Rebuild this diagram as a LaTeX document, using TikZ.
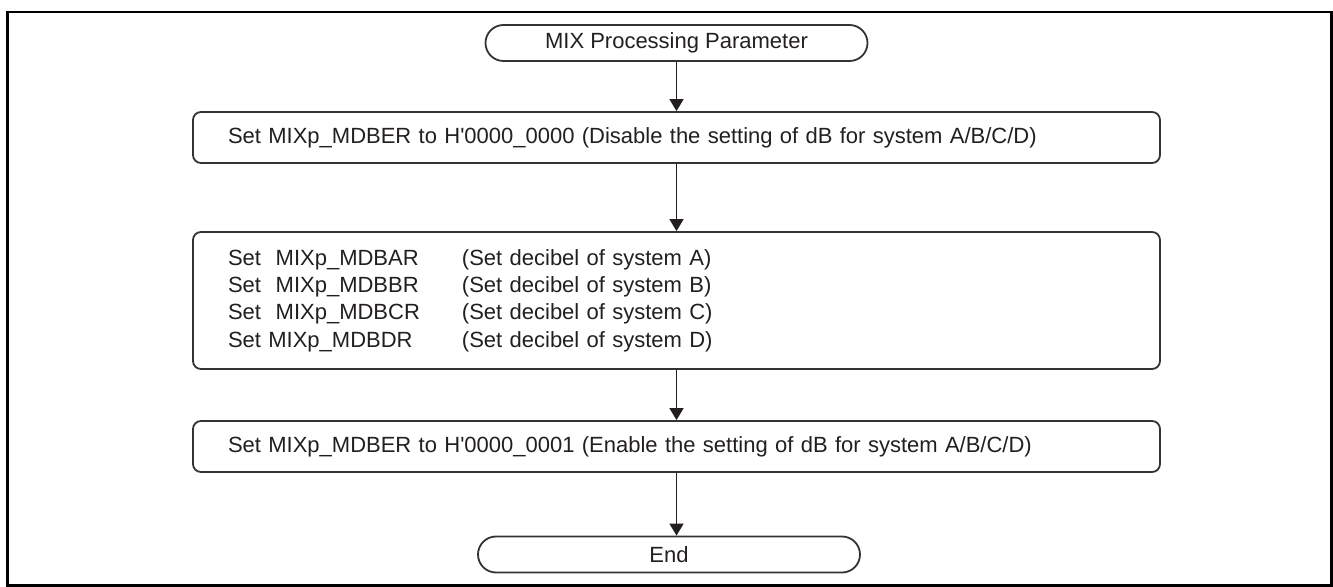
\documentclass[tikz,border=0pt]{standalone}
\usepackage{fontspec}
\setmainfont{Liberation Sans}
\usetikzlibrary{positioning,arrows.meta}
\definecolor{ink}{HTML}{231F20}
\definecolor{edge}{HTML}{333333}

\begin{document}
\begin{tikzpicture}[x=0.5pt,y=-0.5pt,
  font=\fontsize{11}{13.65}\selectfont, text=ink,
  terminal/.style={draw=edge,line width=0.9pt,rounded corners=9pt,minimum width=191pt,minimum height=18pt,inner sep=0pt},
  procbox/.style={draw=edge,line width=0.9pt,rounded corners=4pt,minimum width=483.5pt,text width=448.5pt,inner xsep=17.5pt,inner ysep=0pt,align=left},
  flow/.style={-{Triangle[width=7pt,length=6pt]},draw=ink,line width=0.75pt}]
  \useasboundingbox (0,0) rectangle (1333,587);
  \draw[line width=1.25pt] (7.5,12) rectangle (1331.5,585.5);

  \node[terminal] (start) at (676.5,43) {MIX Processing Parameter};
  \node[procbox,minimum height=25.5pt] (mdber0) at (676.5,137.5)
    {Set MIXp\_MDBER to H\textquotesingle 0000\_0000 (Disable the setting of dB for system A/B/C/D)};
  \node[procbox,minimum height=68.5pt] (mdbxr) at (676.5,300.5)
    {\makebox[117pt][l]{Set\ \ MIXp\_MDBAR}(Set decibel of system A)\\
     \makebox[117pt][l]{Set\ \ MIXp\_MDBBR}(Set decibel of system B)\\
     \makebox[117pt][l]{Set\ \ MIXp\_MDBCR}(Set decibel of system C)\\
     \makebox[117pt][l]{Set MIXp\_MDBDR}(Set decibel of system D)};
  \node[procbox,minimum height=25.5pt] (mdber1) at (676.5,446.5)
    {Set MIXp\_MDBER to H\textquotesingle 0000\_0001 (Enable the setting of dB for system A/B/C/D)};
  \node[terminal] (finish) at (669,554.5) {End};

  \draw[flow] (start.south) -- (start.south |- mdber0.north);
  \draw[flow] (mdber0.south) -- (mdber0.south |- mdbxr.north);
  \draw[flow] (mdbxr.south) -- (mdbxr.south |- mdber1.north);
  \draw[flow] (mdber1.south) -- (mdber1.south |- finish.north);
\end{tikzpicture}
\end{document}
